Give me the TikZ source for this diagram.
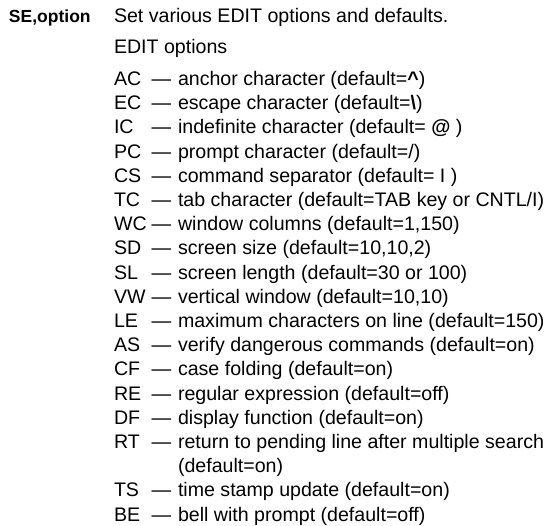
\documentclass[tikz,border=0pt]{standalone}
\usepackage{fontspec}
\setmainfont{Liberation Sans}
\newcommand\optrow[4]{%
  \node[lab] (l#1) at (114,{85.5+24.2*#2}) {#1};
  \node[dsh] (d#1) at (151.5,{85.5+24.2*#2}) {\textemdash};
  \node[txt] (t#1) at (178,{85.5+24.2*#2}) {#4};}
\begin{document}
\begin{tikzpicture}[x=1pt,y=-1pt,
  base/.style={anchor=base west,inner sep=0pt,outer sep=0pt,font=\fontsize{19.6}{24}\selectfont},
  txt/.style={base},
  lab/.style={base},
  dsh/.style={base},
  head/.style={base,font=\fontsize{17.5}{24}\selectfont\bfseries}]
\useasboundingbox (0,0) rectangle (546,526);
\node[head] (se) at (9,23) {SE,option};
\node[txt] (set) at (114,23) {Set various EDIT options and defaults.};
\node[txt] (edit) at (114,54) {EDIT options};
\optrow{AC}{0}{}{anchor character (default={\bfseries\^{}})}
\optrow{EC}{1}{}{escape character (default={\bfseries\textbackslash})}
\optrow{IC}{2}{}{indefinite character (default= {\bfseries @} )}
\optrow{PC}{3}{}{prompt character (default=/)}
\optrow{CS}{4}{}{command separator (default= I )}
\optrow{TC}{5}{}{tab character (default=TAB key or CNTL/I)}
\optrow{WC}{6}{}{window columns (default=1,150)}
\optrow{SD}{7}{}{screen size (default=10,10,2)}
\optrow{SL}{8}{}{screen length (default=30 or 100)}
\optrow{VW}{9}{}{vertical window (default=10,10)}
\optrow{LE}{10}{}{maximum characters on line (default=150)}
\optrow{AS}{11}{}{verify dangerous commands (default=on)}
\optrow{CF}{12}{}{case folding (default=on)}
\optrow{RE}{13}{}{regular expression (default=off)}
\optrow{DF}{14}{}{display function (default=on)}
\optrow{RT}{15}{}{return to pending line after multiple search}
\node[txt] (rtcont) at (178,{85.5+24.2*16}) {(default=on)};
\optrow{TS}{17}{}{time stamp update (default=on)}
\optrow{BE}{18}{}{bell with prompt (default=off)}
\end{tikzpicture}
\end{document}
